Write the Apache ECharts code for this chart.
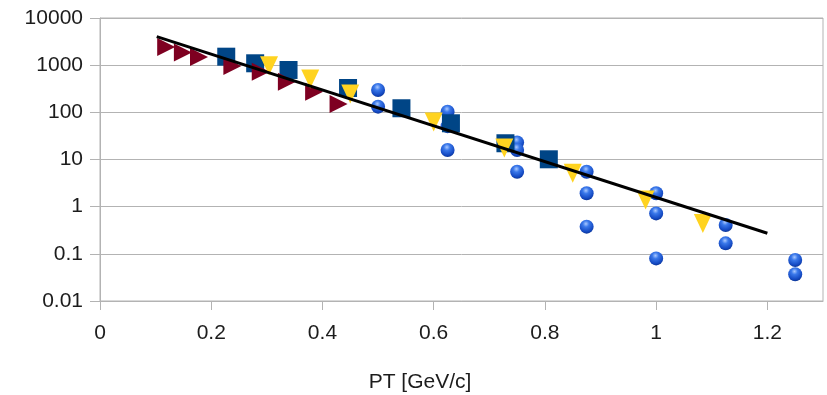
<!DOCTYPE html>
<html>
<head>
<meta charset="utf-8">
<script src="https://cdn.jsdelivr.net/npm/echarts@6/dist/echarts.min.js"></script>
<style>
  html, body { margin: 0; padding: 0; background: #fff; }
  #chart { width: 827px; height: 395px; }
</style>
</head>
<body>
<div id="chart"></div>
<script>
// Transverse-momentum spectra: yield versus PT on a log scale

// x-axis tick labels (GeV/c)
const xTicks = [0, 0.2, 0.4, 0.6, 0.8, 1, 1.2];
const xTitle = 'PT [GeV/c]';

// maroon right-pointing triangles
const maroonX = [0.119, 0.149, 0.178, 0.238, 0.289, 0.336, 0.385, 0.429];
const maroonY = [2426, 1857, 1490, 960, 727, 447, 274, 150];

// navy squares
const navyX = [0.227, 0.279, 0.339, 0.446, 0.542, 0.631, 0.729, 0.807];
const navyY = [1513, 1096, 791, 328, 122, 58.6, 22.1, 10.1];

// yellow down-pointing triangles
const yellowX = [0.304, 0.378, 0.450, 0.600, 0.727, 0.850, 0.981, 1.084];
const yellowY = [975, 509, 245, 62.4, 17.5, 5.1, 1.39, 0.44];

// blue spheres
const ballX = [0.5, 0.5, 0.625, 0.625, 0.625, 0.75, 0.75, 0.75, 0.875, 0.875, 0.875,
               1.0, 1.0, 1.0, 1.125, 1.125, 1.25, 1.25];
const ballY = [298, 132, 103, 51, 15.9, 23, 15.9, 5.5, 5.5, 1.92, 0.377,
               1.92, 0.72, 0.08, 0.41, 0.167, 0.074, 0.037];

// exponential fit (straight line on the log axis), end points
const fitX = [0.102, 1.2];
const fitY = [4015, 0.273];

const pairs = (xs, ys) => xs.map((x, i) => [x, ys[i]]);

const textColor = '#1c1c1c';
const lineColor = '#b3b3b3';
const fontFamily = '"Liberation Sans", Arial, sans-serif';

const chart = echarts.init(document.getElementById('chart'), null, { renderer: 'canvas' });

chart.setOption({
  animation: false,
  backgroundColor: '#ffffff',
  grid: {
    left: 100, right: 4, top: 18, bottom: 94,
    show: true, borderColor: lineColor, borderWidth: 1, backgroundColor: 'transparent'
  },
  graphic: [{
    type: 'text',
    x: 420, y: 382,
    silent: true,
    style: {
      text: xTitle,
      fill: textColor,
      font: '21px ' + fontFamily,
      textAlign: 'center',
      textVerticalAlign: 'middle'
    }
  }],
  xAxis: {
    type: 'value',
    min: 0, max: 1.3, interval: 0.2,
    axisLine: { show: true, lineStyle: { color: lineColor, width: 1 } },
    axisTick: { show: true, length: 9, customValues: xTicks, lineStyle: { color: lineColor } },
    axisLabel: {
      customValues: xTicks,
      color: textColor, fontSize: 21, fontFamily, margin: 22,
      formatter: v => String(+(+v).toFixed(2))
    },
    splitLine: { show: false }
  },
  yAxis: {
    type: 'log',
    logBase: 10,
    min: 0.01, max: 10000,
    axisLine: { show: true, lineStyle: { color: lineColor, width: 1 } },
    axisTick: { show: true, length: 10, lineStyle: { color: lineColor } },
    axisLabel: {
      color: textColor, fontSize: 21, fontFamily, margin: 17,
      formatter: v => String(+(+v).toPrecision(6))
    },
    splitLine: { show: true, lineStyle: { color: lineColor, width: 1 } },
    minorTick: { show: false }
  },
  series: [
    {
      name: 'spheres',
      type: 'scatter',
      z: 2,
      symbol: 'circle',
      symbolSize: 14,
      data: pairs(ballX, ballY),
      itemStyle: {
        opacity: 1,
        color: {
          type: 'radial', x: 0.45, y: 0.3, r: 0.75,
          colorStops: [
            { offset: 0, color: '#a9c8ff' },
            { offset: 0.3, color: '#3a78ea' },
            { offset: 0.75, color: '#1449c2' },
            { offset: 1, color: '#0a2f88' }
          ]
        }
      }
    },
    {
      name: 'squares',
      type: 'scatter',
      z: 3,
      symbol: 'rect',
      symbolSize: 18,
      data: pairs(navyX, navyY),
      itemStyle: { color: '#004586', opacity: 1 }
    },
    {
      name: 'maroon',
      type: 'scatter',
      z: 4,
      symbol: 'triangle',
      symbolRotate: -90,
      symbolSize: [18, 18],
      data: pairs(maroonX, maroonY),
      itemStyle: { color: '#7e0021', opacity: 1 }
    },
    {
      name: 'yellow',
      type: 'scatter',
      z: 5,
      symbol: 'triangle',
      symbolRotate: 180,
      symbolSize: [18, 19],
      data: pairs(yellowX, yellowY),
      itemStyle: { color: '#ffd320', opacity: 1 }
    },
    {
      name: 'fit',
      type: 'line',
      z: 6,
      showSymbol: false,
      symbol: 'none',
      data: pairs(fitX, fitY),
      lineStyle: { color: '#000000', width: 3 }
    }
  ]
});
</script>
</body>
</html>
